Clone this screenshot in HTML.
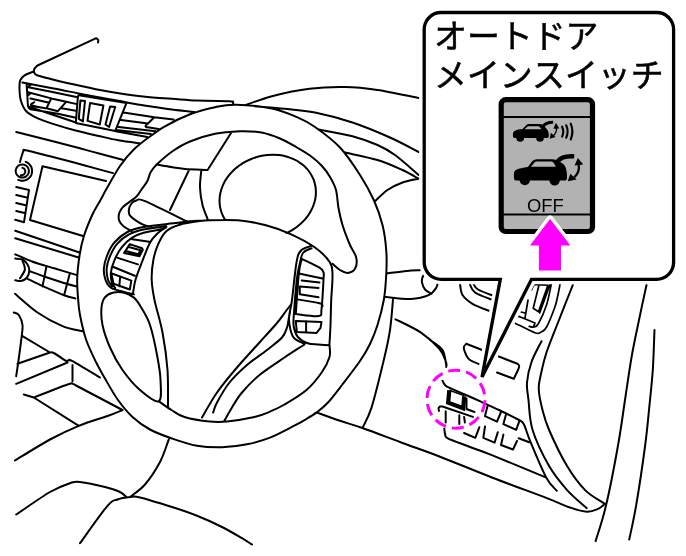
<!DOCTYPE html>
<html lang="ja"><head><meta charset="utf-8"><title>オートドア メインスイッチ</title>
<style>
html,body{margin:0;padding:0;background:#fff;}
body{width:686px;height:556px;overflow:hidden;position:relative;font-family:"Liberation Sans","Noto Sans CJK JP",sans-serif;}
svg{position:absolute;left:0;top:0;display:block}
.t{fill:none;stroke:#000;stroke-width:2;stroke-linecap:round;stroke-linejoin:round}
.f{fill:none;stroke:#000;stroke-width:1.7;stroke-linecap:round;stroke-linejoin:round}
.lbl{position:absolute;left:434px;top:17px;font-size:32.9px;line-height:39.8px;color:#000;white-space:nowrap;letter-spacing:0;font-weight:400;-webkit-text-stroke:0.55px #000;will-change:transform}
.off{position:absolute;left:527.3px;top:195.6px;font-size:18.4px;line-height:20px;color:#000;will-change:transform}
</style></head><body>
<svg width="686" height="556" viewBox="0 0 686 556">
<path class="t" d="M98.0 42.5C98.0 42.0 98.5 40.5 98.2 39.8C97.9 39.1 96.5 38.5 96.2 38.2M96.2 38.2L37.5 65.5M37.5 65.5C37.0 66.1 34.8 67.8 34.3 69.0C33.8 70.2 33.8 71.5 34.3 72.5C34.8 73.5 33.8 74.1 37.0 75.3C40.2 76.5 47.3 78.1 53.7 79.7C60.1 81.3 67.9 83.1 75.6 84.8C83.3 86.5 91.8 88.4 100.0 90.0C108.2 91.6 116.7 93.0 125.0 94.2C133.3 95.4 142.2 96.4 150.0 97.2C157.8 98.0 164.2 98.2 172.0 98.8C179.8 99.3 187.4 100.1 197.0 100.5C206.6 100.9 223.5 101.0 229.5 101.2C235.5 101.5 232.2 101.8 232.8 102.3C233.4 102.8 233.2 104.1 233.2 104.5M34.0 71.4C32.4 72.1 26.9 73.8 24.6 75.3C22.3 76.8 21.1 78.1 20.2 80.4C19.3 82.7 19.4 85.8 19.5 89.2C19.6 92.6 19.8 97.2 20.9 100.8C22.0 104.4 23.4 108.2 26.0 111.0C28.6 113.8 31.6 115.4 36.2 117.6C40.8 119.8 47.1 121.9 53.7 124.1C60.3 126.2 68.3 128.6 75.6 130.5C82.9 132.4 90.4 134.1 97.5 135.7C104.6 137.3 111.1 139.0 118.3 140.3C125.5 141.6 136.8 142.9 140.5 143.4M22.4 82.6C27.6 83.6 44.4 86.6 53.7 88.4C63.1 90.2 71.5 92.1 78.5 93.5C85.5 94.9 89.1 95.6 95.7 96.8C102.3 98.0 111.8 99.6 118.3 100.8C124.8 102.0 128.6 102.9 135.0 104.0C141.4 105.1 150.4 106.3 156.6 107.2C162.8 108.1 165.7 108.7 172.0 109.5C178.3 110.3 190.8 111.6 194.5 112.0M26.6 84.2C26.7 86.0 27.1 91.3 27.3 95.0C27.6 98.7 27.6 104.0 28.1 106.4C28.6 108.8 30.0 108.8 30.4 109.3M28.1 106.4L52.0 114.5L75.9 122.5M30.4 109.3L57.9 113.7L75.9 117.8M27.6 87.5L30.4 84.9M29.5 87.4L51.3 91.8L77.6 97.2M28.1 92.2L51.3 98.4M27.8 95.5L31.0 93.0M30.4 98.4L48.4 102.5M34.2 102.2C33.7 102.8 29.3 104.5 31.4 105.5C33.4 106.5 44.0 107.8 46.5 108.3M66.4 101.7L76.9 104.1M61.7 108.3L75.9 110.7M51.3 98.4L66.4 101.7L57.9 111.2L46.5 108.3ZM77.8 98.0C77.9 97.6 77.8 96.0 78.3 95.6C78.8 95.2 80.1 95.5 80.5 95.5M80.5 95.5L126.5 102.9L115.2 131.1L75.8 122.9L77.8 98.0M80.4 100.4L85.0 100.9L82.9 121.4L78.8 118.8ZM90.1 102.9L103.4 105.5L99.8 124.5L87.5 120.9ZM110.1 106.5L115.2 107.0L109.1 127.0L105.5 124.5ZM123.4 112.5L154.3 117.2L173.6 119.5M154.3 117.2C153.2 118.3 149.4 122.1 147.9 123.6C146.4 125.0 145.9 125.3 145.6 125.9C145.3 126.5 146.1 126.9 146.2 127.1M146.2 127.1L158.5 129.0M121.1 120.1L147.9 123.6M118.7 127.1L155.5 131.2M116.4 130.0L150.8 134.1M115.8 131.2L147.3 137.0M16.2 132.0C20.2 133.0 30.2 135.5 40.0 138.0C49.8 140.5 65.0 144.4 75.0 147.0C85.0 149.6 92.1 151.7 100.0 153.8C107.9 155.9 118.8 158.8 122.5 159.8M20.0 162.0C20.3 160.8 21.4 156.8 22.0 155.0C22.6 153.2 22.8 151.8 23.5 151.0C24.2 150.2 21.6 149.3 26.0 150.2C30.4 151.1 41.8 154.2 50.0 156.3C58.2 158.4 66.7 160.6 75.0 162.8C83.3 165.0 93.7 167.9 100.0 169.6C106.3 171.3 110.8 172.5 113.0 173.1M28.9 171.0C28.8 171.3 28.8 172.4 28.6 173.0C28.4 173.7 28.0 174.3 27.6 174.9C27.2 175.4 26.7 175.9 26.2 176.3C25.6 176.7 25.0 177.1 24.3 177.3C23.7 177.5 23.0 177.6 22.3 177.6C21.6 177.6 20.9 177.5 20.3 177.3C19.6 177.1 19.0 176.7 18.4 176.3C17.9 175.9 17.4 175.4 17.0 174.9C16.6 174.3 16.2 173.7 16.0 173.0C15.8 172.4 15.7 171.7 15.7 171.0C15.7 170.3 15.8 169.6 16.0 169.0C16.2 168.3 16.6 167.7 17.0 167.1C17.4 166.6 17.9 166.1 18.4 165.7C19.0 165.3 19.6 164.9 20.3 164.7C20.9 164.5 21.6 164.4 22.3 164.4C23.0 164.4 23.7 164.5 24.3 164.7C25.0 164.9 25.6 165.3 26.2 165.7C26.7 166.1 27.2 166.6 27.6 167.1C28.0 167.7 28.4 168.3 28.6 169.0C28.8 169.6 28.8 170.7 28.9 171.0M25.7 161.8C26.1 162.0 27.6 162.7 28.4 163.3C29.2 164.0 30.0 164.8 30.5 165.7C31.1 166.5 31.5 167.5 31.8 168.5C32.0 169.5 32.1 170.6 32.1 171.7C32.0 172.7 31.8 173.8 31.4 174.8C31.0 175.7 30.4 176.6 29.7 177.4C29.0 178.2 28.2 178.9 27.3 179.4C26.4 180.0 25.4 180.4 24.3 180.6C23.3 180.8 22.2 180.9 21.2 180.7C20.2 180.6 18.7 180.0 18.2 179.9M22.5 167.8C22.7 167.9 23.4 168.2 23.8 168.5C24.2 168.7 24.5 169.1 24.7 169.5C25.0 169.9 25.2 170.4 25.2 170.9C25.3 171.3 25.3 171.9 25.2 172.3C25.1 172.8 24.9 173.3 24.6 173.6C24.4 174.0 24.0 174.4 23.6 174.7C23.2 174.9 22.7 175.1 22.3 175.2C21.8 175.3 21.1 175.2 20.8 175.2M106.0 181.0L42.5 166.2L30.0 220.0L83.8 236.2M16.2 187.0L29.0 190.0L24.0 222.2L15.2 219.8M16.2 195.0L27.8 197.8M16.2 203.0L26.6 205.5M16.2 211.0L25.5 213.3M15.2 230.7L80.2 252.7M15.2 238.3L78.6 257.5M15.2 258.6C16.4 258.8 20.4 258.7 22.5 259.7C24.6 260.7 26.4 262.7 27.5 264.5C28.6 266.3 29.4 268.3 29.3 270.5C29.2 272.7 28.4 275.8 27.0 277.5C25.6 279.2 23.0 280.5 21.0 281.0C19.0 281.5 16.2 280.4 15.2 280.3M22.5 260.7C22.9 262.2 25.3 266.6 24.9 269.5C24.5 272.4 20.8 276.8 20.0 278.3M15.2 254.3C18.0 255.5 25.4 259.1 32.0 261.5C38.6 263.9 47.5 266.2 55.0 268.5C62.5 270.8 73.3 274.0 77.0 275.1M29.7 271.1C32.2 272.0 38.6 274.6 44.9 276.7C51.2 278.8 62.2 282.4 67.4 284.0C72.6 285.6 74.7 286.0 76.2 286.4M26.5 278.3C29.3 279.6 37.0 283.6 43.3 286.4C49.6 289.2 58.7 293.2 64.1 295.2C69.4 297.2 73.5 297.9 75.4 298.4M46.5 266.3L42.5 286.4M69.8 273.5L64.1 295.2M15.0 293.8C18.8 296.9 29.6 307.1 37.5 312.5C45.4 317.9 55.0 323.1 62.5 326.2C70.0 329.4 79.2 330.4 82.5 331.2M13.8 312.5C14.6 312.9 17.3 312.9 18.8 315.0C20.2 317.1 22.1 320.8 22.5 325.0C22.9 329.2 22.3 331.5 21.2 340.0C20.2 348.5 17.1 370.2 16.2 376.2M22.5 336.2L50.0 352.5M50.0 352.5C50.6 352.6 51.0 351.5 53.8 353.0C56.5 354.5 64.2 359.9 66.2 361.2M66.2 361.2C66.7 361.1 68.0 360.2 69.0 360.2C70.0 360.2 67.3 358.4 72.5 361.2C77.7 364.1 95.4 374.8 100.0 377.5M17.5 363.8L50.0 352.5M16.2 383.8L67.5 362.5M72.5 365.0L72.5 381.2M33.8 397.5C39.4 395.3 61.0 386.8 67.5 384.5C74.0 382.2 71.1 383.6 72.5 383.8C73.9 383.9 75.4 385.2 76.0 385.5M76.0 385.5L122.5 410.0M23.8 394.5L33.8 397.5L78.8 425.8M122.5 410.0C120.0 411.0 114.8 413.4 107.5 416.0C100.2 418.6 88.3 421.8 78.8 425.8C69.2 429.7 60.6 433.7 50.0 439.5C39.4 445.3 20.8 457.0 15.0 460.5M16.2 514.5C21.9 510.8 41.0 497.2 50.0 492.0C59.0 486.8 65.0 484.9 70.0 483.2C75.0 481.6 74.2 481.4 80.0 482.0C85.8 482.6 98.3 485.3 105.0 487.0C111.7 488.7 116.5 490.3 120.0 492.0C123.5 493.7 125.2 496.2 126.2 497.0M80.0 543.2C84.6 537.0 101.2 513.0 107.5 505.8C113.8 498.5 113.8 501.0 117.5 499.5C121.2 498.0 126.2 497.3 130.0 497.0C133.8 496.7 133.0 495.8 140.0 497.5C147.0 499.2 162.5 504.0 172.0 507.0C181.5 510.0 188.7 512.4 197.0 515.8C205.3 519.1 214.5 523.2 222.0 527.0C229.5 530.8 237.0 535.3 242.0 538.2C247.0 541.2 250.3 543.5 252.0 544.5M168.8 439.5C167.3 443.2 164.0 454.5 160.0 462.0C156.0 469.5 150.0 478.7 145.0 484.5C140.0 490.3 132.5 494.9 130.0 497.0M236.0 104.8C245.5 105.0 261.8 106.4 272.0 108.5C282.2 110.6 289.8 114.1 297.0 117.2C304.2 120.3 307.8 122.0 315.0 127.0C322.2 132.1 332.5 139.5 340.0 147.5C347.5 155.5 354.4 166.2 360.0 175.0C365.6 183.8 370.0 191.7 373.8 200.0C377.5 208.3 380.4 216.7 382.5 225.0C384.6 233.3 385.6 241.7 386.2 250.0C386.9 258.3 386.7 266.7 386.2 275.0C385.8 283.3 385.2 291.7 383.8 300.0C382.3 308.3 379.8 317.7 377.5 325.0C375.2 332.3 372.9 338.0 370.0 344.0C367.1 350.0 364.7 354.2 360.0 361.0C355.3 367.8 347.3 378.1 342.0 385.0C336.7 391.9 332.2 397.9 328.0 402.5C323.8 407.1 320.4 409.5 316.6 412.4C312.8 415.3 308.9 417.5 305.0 419.8C301.1 422.1 299.1 423.2 293.3 426.2C287.5 429.2 277.7 434.6 270.0 437.6C262.3 440.6 255.0 442.7 247.0 444.3C239.0 445.9 230.3 447.1 222.0 447.3C213.7 447.5 205.3 447.2 197.0 445.8C188.7 444.3 179.8 441.2 172.0 438.5C164.2 435.8 156.6 433.1 150.0 429.5C143.4 425.9 137.8 421.9 132.5 417.0C127.2 412.1 122.6 406.4 118.0 400.0C113.4 393.6 108.6 384.8 105.0 378.5C101.4 372.2 99.4 368.9 96.2 362.5C93.1 356.1 89.0 347.9 86.2 340.0C83.5 332.1 81.3 321.7 80.0 315.0C78.7 308.3 78.7 306.0 78.2 300.0C77.7 294.0 77.0 286.5 77.2 279.0C77.4 271.5 78.5 262.3 79.6 255.1C80.7 247.9 81.9 242.5 84.0 235.8C86.1 229.1 89.5 221.0 92.2 215.0C95.0 209.0 98.1 204.3 100.5 200.0C102.9 195.7 103.2 194.7 106.4 189.0C109.7 183.3 115.5 172.5 120.0 166.0C124.5 159.5 128.7 154.6 133.3 150.0C137.9 145.4 142.2 142.2 147.5 138.3C152.8 134.4 157.9 130.3 165.0 126.3C172.1 122.3 181.7 117.5 190.0 114.3C198.3 111.1 207.3 108.8 215.0 107.2C222.7 105.6 226.5 104.6 236.0 104.8ZM131.5 231.0C130.0 230.1 124.8 227.7 122.6 225.4C120.4 223.1 118.6 220.4 118.6 217.4C118.6 214.4 119.5 211.1 122.4 207.7C125.3 204.3 132.8 200.0 136.0 197.0C139.2 194.0 139.6 192.2 141.5 189.5C143.4 186.8 145.9 183.9 147.4 181.0C148.9 178.1 149.0 175.1 150.6 172.3C152.2 169.5 153.3 167.8 157.0 164.3C160.7 160.8 167.0 155.1 172.5 151.3C178.0 147.5 182.9 144.4 190.0 141.5C197.1 138.6 206.7 135.5 215.0 133.8C223.3 132.0 232.2 131.5 240.0 131.2C247.8 131.0 254.8 131.3 261.5 132.5C268.2 133.7 274.1 136.0 280.0 138.5C285.9 141.0 292.0 144.7 297.0 147.5C302.0 150.3 305.8 152.4 310.0 155.5C314.2 158.6 318.7 162.4 322.0 166.0C325.3 169.6 327.7 173.0 330.0 177.0C332.3 181.0 334.6 184.8 336.0 190.0C337.4 195.2 337.4 202.2 338.5 208.0C339.6 213.8 340.6 218.8 342.5 225.0C344.4 231.2 347.7 239.6 350.0 245.0C352.3 250.4 355.4 253.5 356.2 257.5C357.1 261.5 356.5 266.2 355.0 268.8C353.5 271.3 350.0 272.8 347.5 273.0C345.0 273.2 342.5 271.5 340.0 270.0C337.5 268.5 333.8 264.8 332.5 263.8M175.0 223.1C177.5 222.8 185.1 221.8 190.0 221.3C194.9 220.9 196.0 220.5 204.3 220.4C212.6 220.3 229.9 219.7 240.0 220.5C250.1 221.3 256.7 222.8 265.0 225.0C273.3 227.2 281.7 230.0 290.0 233.8C298.3 237.5 308.3 242.7 315.0 247.5C321.7 252.3 327.1 257.9 330.0 262.5C332.9 267.1 332.3 268.8 332.5 275.0C332.7 281.2 331.6 291.7 331.2 300.0C330.9 308.3 330.8 317.4 330.5 325.0C330.2 332.6 329.6 341.9 329.4 345.3M175.0 223.1C169.8 223.8 151.5 225.6 143.6 227.1C135.7 228.6 132.3 229.4 127.4 232.0C122.5 234.6 117.8 238.6 114.4 242.5C111.0 246.4 108.8 251.2 107.1 255.5C105.3 259.8 104.2 264.3 103.9 268.4C103.6 272.4 104.3 276.6 105.5 279.8C106.7 283.1 108.1 285.9 111.2 287.9C114.3 289.9 120.3 290.8 124.1 291.9C127.9 293.0 132.3 294.0 133.9 294.4M166.3 226.3C162.5 226.9 149.8 228.2 143.6 229.6C137.4 230.9 133.4 232.0 129.0 234.4C124.5 236.8 120.1 240.3 116.9 244.1C113.7 247.9 111.3 253.1 109.6 257.1C107.9 261.2 107.0 264.6 106.7 268.4C106.4 272.2 107.1 276.8 108.0 279.8C108.9 282.8 111.3 285.2 112.0 286.3M163.8 228.8C160.4 229.5 148.9 231.3 143.6 232.8C138.3 234.3 135.8 235.3 132.2 237.7C128.5 240.1 124.7 243.6 121.7 247.4C118.7 251.2 116.2 256.1 114.4 260.3C112.6 264.5 111.3 268.7 110.9 272.5C110.5 276.3 111.3 280.4 112.0 283.0C112.7 285.6 114.7 287.1 115.2 287.9M166.3 227.1C165.0 228.1 160.9 230.2 158.2 232.8C155.5 235.4 152.8 237.6 150.1 242.5C147.4 247.4 144.4 255.8 142.0 262.0C139.6 268.2 137.0 274.7 135.5 279.8C134.0 284.9 133.5 290.6 133.1 292.7M204.3 220.4C200.2 221.1 186.1 222.9 179.8 224.7C173.5 226.5 169.9 228.0 166.3 231.2C162.7 234.4 160.4 239.2 158.2 244.1C156.0 248.9 154.4 254.4 153.3 260.3C152.2 266.2 151.5 273.2 151.7 279.8C151.9 286.4 152.7 291.2 154.5 300.0C156.3 308.8 160.3 320.8 162.5 332.5C164.7 344.2 166.6 357.4 167.5 370.0C168.4 382.6 167.9 401.7 168.0 408.0M132.2 239.3L149.3 241.7M129.8 244.1L142.0 248.2L142.8 249.8L139.5 256.3L124.1 253.1ZM128.0 246.8L140.5 250.3L138.3 254.3L125.8 251.0M117.7 257.9L137.9 264.4M112.8 266.8L134.7 275.7M111.2 273.3L131.4 280.6L129.8 289.5L113.6 283.8ZM120.1 277.3L119.3 286.3M151.2 226.7C149.8 226.4 146.5 226.4 143.1 224.7C139.7 223.0 133.2 218.9 130.8 216.5C128.4 214.1 128.7 212.6 128.8 210.4C128.9 208.2 130.2 205.2 131.5 203.5C132.8 201.8 134.6 200.6 136.9 200.2C139.2 199.8 136.8 197.6 145.1 201.2C153.4 204.8 180.0 218.1 187.0 221.5M101.5 307.5C101.9 302.9 102.8 300.1 104.7 297.6C106.6 295.1 109.6 293.5 112.8 292.7C116.0 291.9 120.6 291.9 124.1 292.7C127.6 293.5 131.2 295.5 133.9 297.6C136.6 299.7 137.3 300.9 140.0 305.5C142.7 310.1 147.1 316.3 150.0 325.0C152.9 333.7 155.8 348.3 157.5 357.5C159.2 366.7 160.3 372.7 160.5 380.0C160.7 387.3 162.2 399.6 158.8 401.2C155.3 402.9 146.0 395.2 140.0 390.0C134.0 384.8 127.5 377.1 122.5 370.0C117.5 362.9 113.3 355.0 110.0 347.5C106.7 340.0 103.9 331.7 102.5 325.0C101.1 318.3 101.1 312.1 101.5 307.5ZM158.8 401.2C160.9 402.7 167.2 407.4 171.5 410.0C175.8 412.6 178.2 415.1 184.5 417.0C190.8 418.9 202.4 420.8 209.5 421.5C216.6 422.2 219.5 422.2 227.0 421.5C234.5 420.8 247.3 418.6 254.5 417.0C261.7 415.4 265.0 413.7 270.0 411.6C275.0 409.5 278.4 408.1 284.5 404.5C290.6 400.9 300.2 395.4 306.5 390.0C312.8 384.6 318.2 377.5 322.0 372.0C325.8 366.5 328.2 361.4 329.5 357.0C330.8 352.6 329.5 347.2 329.5 345.3M311.0 246.0C309.3 246.8 303.4 247.8 301.0 250.5C298.6 253.2 298.0 254.2 296.5 262.5C295.0 270.8 293.2 290.8 292.0 300.0C290.8 309.2 289.2 312.5 289.0 317.5C288.8 322.5 289.6 326.5 290.5 330.0C291.4 333.5 292.2 336.2 294.5 338.5C296.8 340.8 302.8 342.9 304.5 343.8M311.5 248.3C310.1 249.1 305.0 250.2 303.0 253.0C301.0 255.8 300.5 260.6 299.5 265.0C298.5 269.4 297.8 271.1 296.8 279.5C295.9 287.9 294.3 307.2 293.8 315.1C293.3 323.0 293.1 323.4 293.8 327.0C294.5 330.6 295.5 334.1 297.8 336.8C300.1 339.5 304.3 342.0 307.7 343.3C311.1 344.6 314.4 344.2 318.0 344.5C321.6 344.8 327.5 345.2 329.4 345.3M301.7 258.8C304.7 260.3 315.9 265.4 319.5 267.7C323.1 270.0 322.8 270.6 323.5 272.6C324.2 274.6 323.8 273.4 323.5 279.5C323.2 285.6 322.3 303.1 321.5 309.2C320.7 315.3 322.8 315.3 318.5 316.1C314.2 316.9 299.6 314.4 295.8 314.1M301.7 258.8C301.2 261.3 299.8 264.4 298.8 273.6C297.8 282.8 296.3 307.4 295.8 314.1M298.8 273.6L322.5 278.5M301.7 280.5L319.5 282.5M318.5 288.0L299.8 286.4L299.8 294.3L318.5 297.3M296.8 299.3C300.6 299.9 315.2 302.1 319.5 303.2C323.8 304.3 322.0 305.7 322.5 306.2M295.8 321.0L321.5 322.0L320.5 327.9L316.6 332.9L296.8 331.9ZM306.1 321.3L306.1 332.3M291.3 304.0C290.4 305.2 288.4 307.8 286.0 311.0C283.6 314.2 281.4 317.8 277.0 323.0C272.6 328.2 266.2 335.1 259.5 342.5C252.8 349.9 244.1 359.2 237.0 367.5C229.9 375.8 222.8 384.2 217.0 392.5C211.2 400.8 204.5 413.3 202.0 417.5M290.0 312.0C289.8 313.3 289.0 317.4 288.5 320.0C288.0 322.6 288.1 324.6 287.0 327.5C285.9 330.4 285.3 333.8 282.0 337.5C278.7 341.2 272.8 345.4 267.0 350.0C261.2 354.6 253.2 359.6 247.0 365.0C240.8 370.4 234.5 376.2 229.5 382.5C224.5 388.8 219.7 397.5 217.0 402.5C214.3 407.5 213.9 410.8 213.2 412.5M304.5 344.5C301.2 346.7 292.0 352.4 284.5 357.5C277.0 362.6 266.6 369.2 259.5 375.0C252.4 380.8 246.6 387.1 242.0 392.5C237.4 397.9 234.9 402.8 232.0 407.5C229.1 412.2 225.8 418.3 224.5 420.5M224.5 218.8C224.1 218.1 222.9 215.9 222.3 214.4C221.6 212.9 221.1 211.4 220.7 209.8C220.3 208.3 219.9 206.7 219.8 205.0C219.6 203.4 219.5 201.8 219.5 200.1C219.6 198.5 219.7 196.8 220.0 195.1C220.2 193.5 220.6 191.8 221.1 190.2C221.6 188.6 222.2 186.9 222.9 185.3C223.6 183.7 224.4 182.2 225.3 180.6C226.2 179.1 227.2 177.6 228.3 176.1C229.4 174.7 230.6 173.3 231.9 172.0C233.2 170.6 234.6 169.3 236.0 168.1C237.5 166.9 239.0 165.7 240.6 164.7C242.1 163.6 243.8 162.6 245.5 161.7C247.2 160.8 248.9 159.9 250.7 159.2C252.5 158.5 254.4 157.8 256.2 157.2C258.1 156.7 260.0 156.2 261.9 155.8C263.8 155.5 265.7 155.2 267.6 155.0C269.5 154.8 271.4 154.8 273.3 154.8C275.2 154.8 277.1 154.9 279.0 155.1C280.8 155.3 282.7 155.7 284.5 156.1C286.3 156.5 288.0 157.0 289.7 157.6C291.4 158.2 293.1 158.9 294.7 159.7C296.3 160.4 297.8 161.3 299.2 162.3C300.7 163.2 302.1 164.2 303.4 165.3C304.6 166.4 305.8 167.6 307.0 168.9C308.1 170.1 309.1 171.4 310.0 172.8C310.9 174.1 311.7 175.6 312.4 177.0C313.2 178.5 313.8 180.0 314.3 181.6C314.8 183.1 315.1 184.7 315.4 186.3C315.7 187.9 315.8 189.5 315.9 191.2C315.9 192.8 315.9 194.5 315.7 196.1C315.5 197.8 315.2 199.5 314.8 201.1C314.4 202.8 313.8 204.4 313.2 206.0C312.6 207.6 311.8 209.2 311.0 210.8C310.2 212.3 309.2 213.9 308.2 215.3C307.1 216.8 306.0 218.3 304.8 219.6C303.6 221.0 302.2 222.3 300.9 223.6C299.5 224.9 298.0 226.1 296.5 227.2C294.9 228.3 293.3 229.4 291.7 230.3C290.0 231.3 287.4 232.6 286.5 233.0M156.3 164.4C159.0 164.9 167.7 166.6 172.5 167.3C177.3 168.1 179.3 168.5 185.2 168.9C191.0 169.3 203.9 169.8 207.6 170.0M207.6 170.0L231.5 132.3M188.8 170.5L170.0 210.0M201.2 171.2C201.0 174.0 199.8 181.9 200.0 187.5C200.2 193.1 201.2 199.8 202.5 205.0C203.8 210.2 206.7 216.5 207.5 218.8M245.8 105.0C250.1 103.5 261.4 99.0 272.0 96.2C282.6 93.5 297.3 90.3 309.5 88.8C321.7 87.2 333.7 86.8 345.0 87.0C356.3 87.2 365.2 88.2 377.5 90.0C389.8 91.8 411.9 96.7 418.8 98.0M254.5 106.2C259.5 106.7 274.4 107.7 284.5 108.8C294.6 109.8 303.7 110.2 315.0 112.5C326.3 114.8 340.0 118.3 352.5 122.5C365.0 126.7 379.0 132.6 390.0 137.5C401.0 142.4 414.0 149.6 418.8 152.0M318.8 129.5C324.4 130.6 342.7 133.7 352.5 136.2C362.3 138.8 370.4 141.9 377.5 145.0C384.6 148.1 388.1 150.0 395.0 155.0C401.9 160.0 414.8 171.7 418.8 175.0M345.0 152.5C350.4 153.8 367.9 157.1 377.5 160.0C387.1 162.9 395.6 166.9 402.5 170.0C409.4 173.1 416.0 177.3 418.8 178.8M418.8 178.8C416.0 179.4 407.7 180.6 402.5 182.5C397.3 184.4 392.1 186.9 387.5 190.0C382.9 193.1 377.1 199.4 375.0 201.2M386.3 273.4C389.7 273.0 401.1 271.4 406.7 270.9C412.3 270.4 417.8 270.4 420.0 270.3M384.3 296.8C388.7 297.1 403.3 299.2 410.8 298.9C418.3 298.6 424.9 296.7 429.2 294.8C433.4 292.9 434.9 289.6 436.3 287.7C437.7 285.8 437.3 284.2 437.5 283.5M424.3 274.0C424.0 274.7 422.7 276.6 422.3 278.0C421.9 279.4 421.6 280.6 422.0 282.5C422.4 284.4 423.4 287.6 425.0 289.5C426.6 291.4 430.4 293.1 431.5 293.8M393.0 299.5C392.5 304.6 391.5 319.9 390.0 330.0C388.5 340.1 386.9 347.1 383.8 360.0C380.7 372.9 375.1 396.3 371.5 407.6C367.9 418.9 363.9 424.6 362.4 428.0M395.5 319.3C399.8 321.5 413.7 327.7 421.0 332.6C428.3 337.5 435.2 344.0 439.4 348.9C443.6 353.8 444.9 359.0 446.0 362.0C447.1 365.0 446.2 366.2 446.2 367.0M317.0 412.5C320.8 413.9 332.4 418.2 340.0 420.8C347.6 423.4 352.2 424.4 362.4 428.0C372.6 431.6 388.3 437.7 401.2 442.5C414.1 447.3 424.8 450.8 440.0 456.7C455.2 462.6 475.0 470.9 492.5 477.7C510.0 484.5 531.9 492.4 545.0 497.4C558.1 502.4 564.2 505.5 571.2 507.9C578.2 510.3 582.6 511.6 587.0 511.8C591.4 512.0 594.5 510.5 597.5 509.2C600.5 507.9 603.6 504.8 604.8 503.9M572.8 285.0C570.5 290.8 563.4 308.8 559.0 320.0C554.6 331.2 549.6 342.9 546.5 352.5C543.4 362.1 541.5 371.2 540.2 377.5C539.0 383.8 538.4 384.6 538.8 390.0C539.1 395.4 540.8 403.3 542.5 410.0C544.2 416.7 545.0 420.6 549.1 430.0C553.2 439.4 561.1 456.1 567.1 466.1C573.1 476.1 578.9 483.9 585.1 490.1C591.4 496.4 601.4 501.4 604.6 503.6M541.5 341.2C539.8 344.7 533.9 355.1 531.5 362.0C529.1 368.9 527.5 376.2 527.0 382.5C526.5 388.8 527.6 392.1 528.5 400.0C529.4 407.9 529.2 419.0 532.6 430.0C536.0 441.0 543.4 456.1 549.1 466.1C554.9 476.1 560.9 483.1 567.1 490.1C573.4 497.1 583.4 505.1 586.6 508.1M646.5 285.0C645.2 290.8 641.5 307.9 639.0 320.0C636.5 332.1 633.8 344.2 631.5 357.5C629.2 370.8 627.2 385.4 625.0 400.0C622.8 414.6 621.2 427.5 618.1 445.0C615.0 462.5 609.9 489.1 606.1 505.1C602.4 521.1 597.4 535.1 595.6 541.1M654.5 330.0C654.2 336.7 653.6 357.5 652.8 370.0C651.9 382.5 650.8 392.5 649.5 405.0C648.2 417.5 647.4 428.3 645.2 445.0C643.0 461.7 638.9 489.3 636.2 505.1C633.5 520.9 630.4 533.9 629.2 539.6M460.0 283.8C460.4 285.6 460.4 291.7 462.5 295.0C464.6 298.3 467.9 301.0 472.5 303.8C477.1 306.5 487.1 310.0 490.0 311.2M470.0 284.5C470.8 285.8 471.2 289.9 475.0 292.5C478.8 295.1 489.6 298.8 492.5 300.0M473.5 283.8C474.2 284.7 474.6 287.5 478.0 289.5C481.4 291.5 491.3 294.9 494.0 296.0M481.2 365.0C479.4 364.2 472.5 361.7 470.0 360.0C467.5 358.3 467.3 357.1 466.2 355.0C465.2 352.9 463.8 349.4 463.8 347.5C463.8 345.6 465.8 344.4 466.2 343.8M466.2 343.8L517.5 363.8M517.5 363.8C517.8 364.1 519.1 365.0 519.2 366.0C519.3 367.0 518.9 367.9 518.0 370.0C517.1 372.1 514.5 377.3 513.8 378.8M513.8 378.8L497.0 372.5M430.0 340.0C432.1 341.7 439.8 345.8 442.5 350.0C445.2 354.2 445.6 362.5 446.2 365.0M442.5 380.8C443.0 381.6 444.1 384.4 445.7 385.7C447.3 387.0 448.6 387.3 452.0 388.9C455.4 390.4 461.2 392.9 466.0 395.0C470.8 397.1 475.3 399.1 481.0 401.7C486.7 404.3 493.5 407.4 500.0 410.5C506.5 413.6 516.7 418.8 520.0 420.5M520.0 420.5C520.7 421.2 522.2 420.9 524.0 424.5C525.8 428.1 526.9 433.3 530.6 442.2C534.3 451.1 541.9 469.6 546.3 477.7C550.7 485.8 555.0 488.6 556.8 490.8M444.3 428.5C444.4 429.5 444.6 432.8 445.2 434.4C445.8 436.0 443.8 436.2 447.9 438.3C452.0 440.4 462.6 444.1 470.0 447.0C477.4 449.9 479.8 450.3 492.5 455.4C505.2 460.5 537.3 474.0 546.3 477.7M518.7 438.3L529.2 442.2M439.0 411.0C438.9 410.5 438.4 408.8 438.6 408.0C438.8 407.2 439.6 406.8 440.2 406.5C440.8 406.2 442.1 406.5 442.5 406.5M442.5 406.5L472.9 416.9M466.5 398.5L466.5 409.0L474.5 412.0M487.4 406.5L485.0 416.1L497.0 421.7L501.0 412.0M505.8 415.3L503.4 424.1L516.2 429.8L519.4 420.9M445.7 411.3L445.7 422.5M459.3 415.3L459.3 424.1M464.1 416.9L464.9 422.5M464.1 433.0L475.3 437.8L479.3 427.3M485.0 426.5L483.3 437.8L494.6 442.6L497.8 432.2M503.4 434.6L501.0 445.0L513.0 449.5L517.0 441.0"/>
<path class="f" d="M560.0 284.4C559.6 286.5 558.4 293.2 557.5 297.0C556.6 300.8 556.6 302.2 554.8 307.2C553.0 312.2 548.9 322.8 546.6 327.0C544.3 331.2 542.7 331.2 540.8 332.2C538.9 333.2 539.4 334.4 535.0 332.8C530.6 331.2 518.0 324.5 514.6 322.9M551.3 284.4C550.5 287.8 548.7 298.3 546.6 304.8C544.5 311.3 540.6 319.8 538.5 323.5C536.4 327.2 535.3 326.5 533.8 327.0C532.2 327.5 530.0 326.5 529.2 326.4M518.0 316.0L535.0 323.0L533.8 326.0M539.0 285.0L533.2 308.3L538.5 311.8L547.8 285.6M535.0 284.7L548.0 285.2M550.0 284.5L539.7 313.0M533.8 285.0L531.5 290.0M528.0 300.0L525.0 318.0M521.0 312.0L525.0 313.0M518.5 316.5L524.5 318.5"/>
<path d="M449.3 390.3L448.2 402.6L463.2 408.2L464.2 396.3" fill="none" stroke="#000" stroke-width="4.2" stroke-linejoin="miter"/>
<path d="M449.5 390.2L464.5 395.8" fill="none" stroke="#000" stroke-width="1.6"/>
<!-- dashed highlight circle -->
<circle cx="456" cy="399.2" r="29" fill="none" stroke="#ff00ff" stroke-width="3" stroke-dasharray="12.2 6.02" stroke-dashoffset="3" transform="rotate(-100 456 399.2)"/>
<!-- callout -->
<path d="M441.2 12.5H656.6A17 17 0 0 1 673.6 29.5V262.3A17 17 0 0 1 656.6 279.3H531.5L482 377L500.3 279.3H441.2A17 17 0 0 1 424.2 262.3V29.5A17 17 0 0 1 441.2 12.5Z" fill="#fff" stroke="#fff" stroke-width="10" stroke-linejoin="round"/>
<path d="M441.2 12.5H656.6A17 17 0 0 1 673.6 29.5V262.3A17 17 0 0 1 656.6 279.3H531.5L482 377L500.3 279.3H441.2A17 17 0 0 1 424.2 262.3V29.5A17 17 0 0 1 441.2 12.5Z" fill="#fff" stroke="#000" stroke-width="3.3" stroke-linejoin="miter"/>
<!-- switch -->
<rect x="501.2" y="99.7" width="91.3" height="131.8" rx="4.5" ry="4.5" fill="#b2b2b2" stroke="#000" stroke-width="5.2"/>
<path d="M503 117H591" stroke="#000" stroke-width="2.2" fill="none"/><path d="M503 214.5H591" stroke="#000" stroke-width="2" fill="none"/>
<!-- icons -->
<g fill="#000" stroke="none">
<path d="M512.9 134.6C512.9 131.8 514 130.6 516.7 129.9C519 129.4 521 129.2 522.5 129L525.8 125.7C527 124.4 528 124.1 529.5 124.1H540C542.5 124.3 544 125.6 545.2 127.2C547 129.2 547.8 130.3 548.1 131.3C548.7 133 548.9 134.5 548.8 136C548.7 137.3 548.3 137.9 547.4 137.9H514.2C513.2 137.9 512.9 136.8 512.9 134.6Z"/>
<circle cx="520.2" cy="137.8" r="3.9"/><circle cx="540" cy="137.8" r="3.9"/>
<path d="M513.9 175.2C513.9 172.8 514 172 514.7 171.3C515.6 170 517 169.2 518.6 168.8C522 167.8 525 167.3 527.9 166.9L531.6 161.9C533 160.2 534.8 159.3 537.2 159.3H552.1C554.5 159.4 556.6 160 558.3 160.9C560.4 162 562 163 563.2 163.9C565 165.6 565.9 167.5 566.3 169.8C566.9 172.4 567.1 175 567 177.3C566.9 179.5 566.6 180.5 565.2 180.5H516C514.4 180.5 513.9 179.5 513.9 175.2Z"/>
<circle cx="524.8" cy="180.2" r="5.1"/><circle cx="554.6" cy="180.2" r="5.2"/>
</g>
<g fill="#b2b2b2" stroke="none">
<path d="M524.6 129.2L527.6 126.6C528 126.3 528.5 126.2 529 126.2H538C538.8 126.2 539.2 126.4 539.7 127L541.5 129.3Z"/>
<path d="M530.8 166.8L534.2 162.9C535 161.9 536.2 161.5 537.6 161.5H550.6C552.2 161.5 553.2 162.1 554 163.5L555.9 166.8Z"/>
</g>
<g fill="none" stroke="#000" stroke-linecap="butt">
<path d="M543 126.6C544.8 123.6 547.5 122.3 553.2 122.3" stroke-width="3"/>
<path d="M556.3 126.8C557 130.5 555.8 133.8 552.6 136.4" stroke-width="1.4"/>
<path d="M562.1 126.7C563.6 129.8 563.6 133.4 562.1 136.6M566.2 125.3C568 129.2 568 133.8 566.2 137.7M570.7 123.7C572.9 128.8 572.9 134.4 570.7 139.5" stroke-width="2.1" stroke-linecap="round"/>
<path d="M557.5 161.5C560.5 157.5 565.5 155.8 574.2 156.4" stroke-width="4.4"/>
<path d="M578.6 164C579.6 169 578.4 173.5 574.3 177.3" stroke-width="2.3"/>
</g>
<g fill="#000" stroke="none">
<path d="M556 122.8L559.2 128.4L553.4 128.8Z"/>
<path d="M549.8 138.8L550.8 132.8L555.6 137Z"/>
<path d="M577.9 158.1L583.2 164.6L574.6 165.6Z"/>
<path d="M567.8 181.3L570.3 173.8L576.6 179.4Z"/>
</g>
<!-- arrow -->
<path d="M550.1 219L570.4 245.6H561V270.4H539V245.6H530Z" fill="#fff" stroke="#fff" stroke-width="7" stroke-linejoin="round"/>
<path d="M550.1 219L570.4 245.6H561V270.4H539V245.6H530Z" fill="#ff00ff"/>
</svg>
<div class="lbl" style="top:17px">オートドア</div>
<div class="lbl" style="top:56px">メインスイッチ</div>
<div class="off">OFF</div>
</body></html>
